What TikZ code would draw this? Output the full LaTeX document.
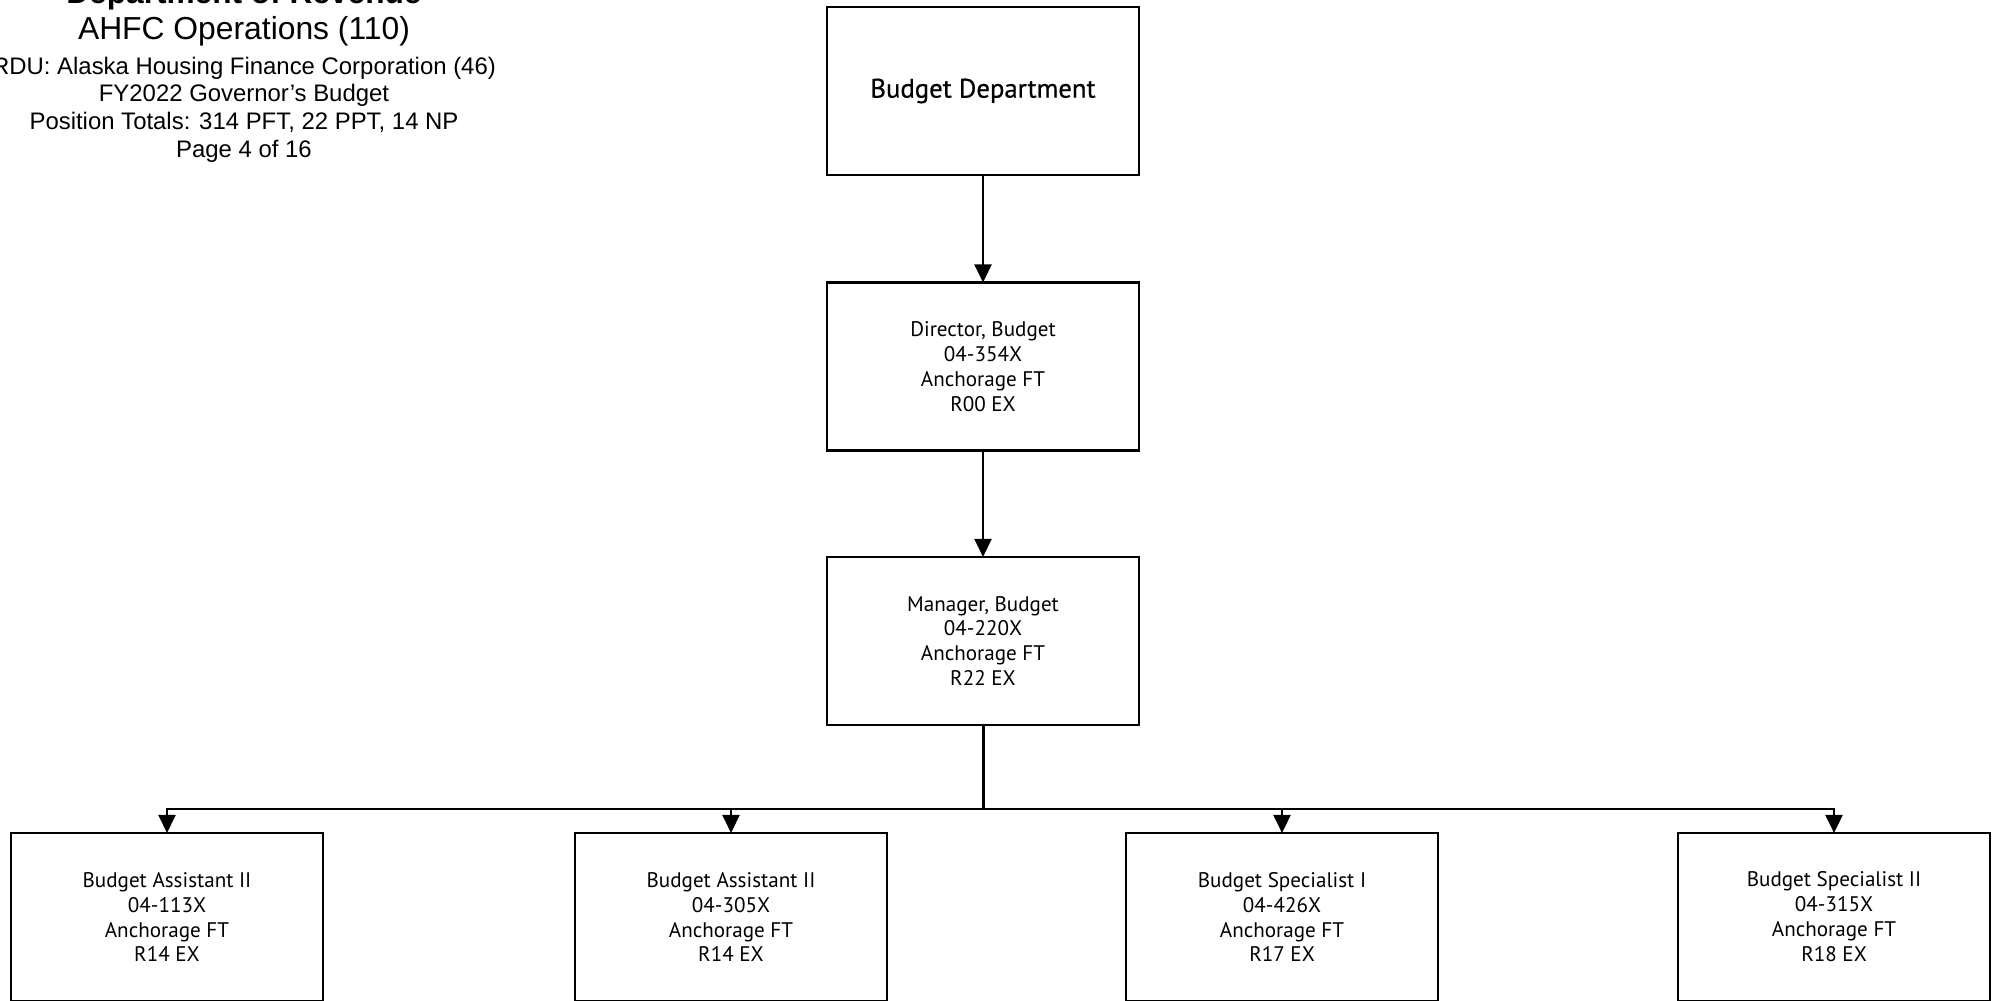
\documentclass[tikz,border=0pt]{standalone}
\usepackage{fontspec}
\setmainfont{PT Sans}
\newfontfamily\medfont[FakeBold=0.6]{PT Sans}
\newfontfamily\hdrfont{Liberation Sans}
\usetikzlibrary{arrows.meta}
\begin{document}
\begin{tikzpicture}[x=0.01cm,y=-0.01cm,
  box/.style={draw, line width=0.65pt, rectangle, minimum width=3.12cm, minimum height=1.68cm, inner sep=0pt, outer sep=0pt, align=center, font=\fontsize{6}{7.1}\selectfont},
  arr/.style={line width=0.65pt, -{Triangle[width=0.17cm,length=0.18cm]}},
  hdr/.style={anchor=base, inner sep=0pt, font=\hdrfont\fontsize{6.8}{8}\selectfont}]
\useasboundingbox (0,0) rectangle (1995,1000);
\clip (0,0) rectangle (1995,1000);
\fill[white] (0,0) rectangle (1995,1000);
% header
\node[hdr, font=\hdrfont\bfseries\fontsize{9}{10}\selectfont] (h1) at (244,3) {Department of Revenue};
\node[hdr, font=\hdrfont\fontsize{9.05}{10}\selectfont] (h2) at (244,39) {AHFC Operations (110)};
\node[hdr] (h3) at (244,74) {RDU: Alaska Housing Finance Corporation (46)};
\node[hdr] (h4) at (244,101) {FY2022 Governor’s Budget};
\node[hdr] (h5) at (244,129) {Position Totals: 314 PFT, 22 PPT, 14 NP};
\node[hdr] (h6) at (244,157) {Page 4 of 16};
% boxes
\node[box, font=\medfont\fontsize{7.6}{9}\selectfont] (dept) at (983,91) {Budget Department};
\node[box] (dir) at (983,366.5) {Director, Budget\\04-354X\\Anchorage FT\\R00 EX};
\node[box] (mgr) at (983,641) {Manager, Budget\\04-220X\\Anchorage FT\\R22 EX};
\node[box] (b1) at (167,917) {Budget Assistant II\\04-113X\\Anchorage FT\\R14 EX};
\node[box] (b2) at (731,917) {Budget Assistant II\\04-305X\\Anchorage FT\\R14 EX};
\node[box] (b3) at (1282,917) {Budget Specialist I\\04-426X\\Anchorage FT\\R17 EX};
\node[box] (b4) at (1834,917) {Budget Specialist II\\04-315X\\Anchorage FT\\R18 EX};
% connectors
\draw[arr] (dept.south) -- (dir.north);
\draw[arr] (dir.south) -- (mgr.north);
\coordinate (bus) at (983,809);
\draw[line width=0.85pt] (mgr.south) -- (bus);
\draw[arr] (bus) -| (b1.north);
\draw[arr] (bus) -| (b2.north);
\draw[arr] (bus) -| (b3.north);
\draw[arr] (bus) -| (b4.north);
\end{tikzpicture}
\end{document}
